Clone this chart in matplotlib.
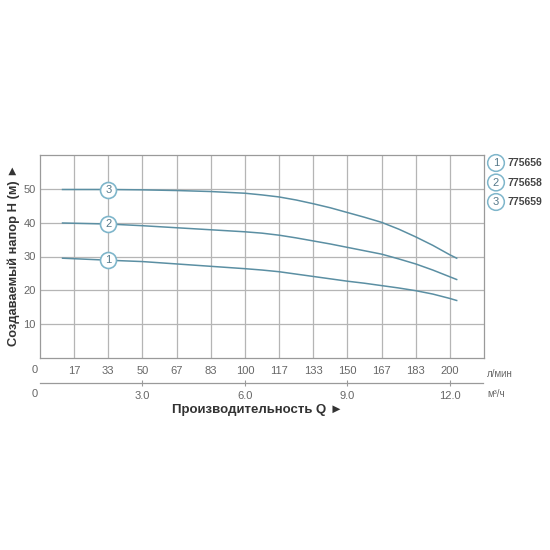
import matplotlib
matplotlib.use('Agg')
from matplotlib import pyplot as plt

plt.rcParams['font.family'] = ['Liberation Sans', 'DejaVu Sans']

# flow in m3/h, head in m
q = [0.66, 2, 3, 4, 5, 6, 6.5, 7, 7.5, 8, 8.5, 9, 9.5, 10, 10.5, 11, 11.5, 12, 12.2]
h_775656 = [29.5, 28.9, 28.5, 27.8, 27.1, 26.4, 26.0, 25.5, 24.8, 24.1, 23.4, 22.7,
            22.1, 21.4, 20.7, 19.9, 18.9, 17.6, 17.0]
h_775658 = [39.9, 39.6, 39.1, 38.5, 37.9, 37.3, 36.9, 36.3, 35.5, 34.6, 33.7, 32.7,
            31.7, 30.7, 29.3, 27.8, 26.0, 24.0, 23.2]
h_775659 = [49.8, 49.8, 49.7, 49.5, 49.2, 48.7, 48.2, 47.6, 46.7, 45.6, 44.4, 43.0,
            41.6, 40.1, 38.1, 35.8, 33.3, 30.5, 29.5]
models = ['775656', '775658', '775659']
label_q = 2

lmin_labels = ['17', '33', '50', '67', '83', '100', '117', '133', '150', '167', '183', '200']
m3h_ticks = [3, 6, 9, 12]
m3h_labels = ['3.0', '6.0', '9.0', '12.0']
y_ticks = [10, 20, 30, 40, 50]

line_col = '#5b8fa3'
circ_col = '#7fb6cb'
num_col = '#56798a'
grid_col = '#b5b5b5'
txt_col = '#666666'

fig = plt.figure(figsize=(5.5, 5.5), dpi=100)
W, H = 550.0, 550.0
ax = fig.add_axes([40 / W, 1 - 358 / H, 444 / W, 203 / H])
ax.set_xlim(0, 13)
ax.set_ylim(0, 60)

for x in range(1, 13):
    ax.axvline(x, color=grid_col, linewidth=0.9, zorder=1)
for y in y_ticks:
    ax.axhline(y, color=grid_col, linewidth=0.9, zorder=1)
for s in ax.spines.values():
    s.set_color('#9a9a9a')
    s.set_linewidth(0.9)

ax.set_xticks(range(1, 13))
ax.set_xticklabels(lmin_labels, fontsize=8, color=txt_col)
ax.set_yticks(y_ticks)
ax.set_yticklabels([str(v) for v in y_ticks], fontsize=8, color=txt_col)
ax.tick_params(axis='x', length=0, pad=6)
ax.tick_params(axis='y', length=0, pad=3)
ax.text(-0.15, -3.4, '0', fontsize=8, color=txt_col, ha='center', va='center', clip_on=False)
ax.text(13.1, -4.6, 'л/мин', fontsize=7, color=txt_col, ha='left', va='center', clip_on=False)

series = [h_775656, h_775658, h_775659]
for i, hs in enumerate(series):
    ax.plot(q, hs, color=line_col, linewidth=1.1, zorder=3)
    yl = hs[q.index(label_q)]
    ax.plot(label_q, yl, 'o', markersize=11.5, markerfacecolor='white',
            markeredgecolor=circ_col, markeredgewidth=1.2, zorder=4)
    ax.text(label_q, yl, str(i + 1), fontsize=8, color=num_col,
            ha='center', va='center', zorder=5)

# second scale, m3/h
ax2 = fig.add_axes([40 / W, 1 - 383 / H, 443 / W, 0.0001])
ax2.set_xlim(0, 13 * 443 / 444)
ax2.set_ylim(0, 1)
for k in ['top', 'left', 'right']:
    ax2.spines[k].set_visible(False)
ax2.spines['bottom'].set_color('#9a9a9a')
ax2.spines['bottom'].set_linewidth(0.9)
ax2.set_yticks([])
ax2.set_xticks(m3h_ticks)
ax2.set_xticklabels(m3h_labels, fontsize=8, color=txt_col)
ax2.tick_params(axis='x', direction='inout', length=5, color='#9a9a9a', pad=3)
fig.text(35 / W, 1 - 394 / H, '0', fontsize=8, color=txt_col, ha='center', va='center')
fig.text(487 / W, 1 - 394 / H, 'м³/ч', fontsize=7, color=txt_col, ha='left', va='center')

fig.text(258 / W, 1 - 410 / H, 'Производительность Q ►', fontsize=9.5,
         fontweight='bold', color='#333333', ha='center', va='center')
fig.text(14 / W, 1 - 255 / H, 'Создаваемый напор H (м) ►', fontsize=9.3,
         fontweight='bold', color='#333333', ha='center', va='center', rotation=90)

# legend
for i, m in enumerate(models):
    yy = 1 - (163 + 19.5 * i) / H
    fig.text(496 / W, yy, str(i + 1), fontsize=8, color=num_col, ha='center', va='center',
             bbox=dict(boxstyle='circle,pad=0.3', facecolor='white', edgecolor=circ_col, linewidth=1.1))
    fig.text(507 / W, yy, m, fontsize=7.5, fontweight='bold', color='#444444',
             ha='left', va='center')

plt.savefig('out.png', dpi=100)
